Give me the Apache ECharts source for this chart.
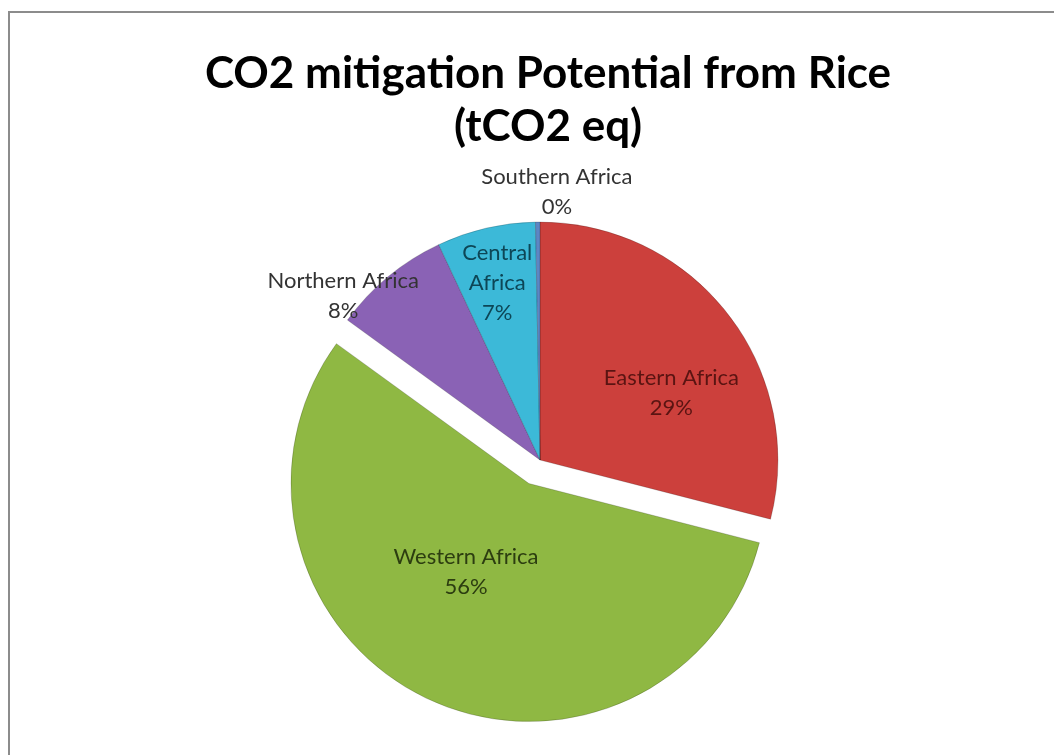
<!DOCTYPE html>
<html>
<head>
<meta charset="utf-8">
<script src="https://cdn.jsdelivr.net/npm/echarts@6/dist/echarts.min.js"></script>
<style>
  html, body { margin: 0; padding: 0; background: #ffffff; }
  #chart { width: 1054px; height: 755px; }
</style>
</head>
<body>
<div id="chart"></div>
<script>
// ---- data ----
const categories = ["Eastern Africa", "Western Africa", "Northern Africa", "Central Africa", "Southern Africa"];
const shares = [29, 56, 8, 6.7, 0.3];          // % of total mitigation potential
const sliceColors = ["#cc403c", "#8fb843", "#8a62b5", "#3cb9d8", "#5c86c4"];
const labelColors = ["#5a1412", "#2c3d10", "#333333", "#0d4656", "#333333"];
const explodedIndex = 1;
// label nudges (style) relative to ECharts inside-label anchor
const labelNudge = [[35, 8], [-11, -22], [-119, -70], [-15, -58], [18, -146]];

const chart = echarts.init(document.getElementById('chart'));
const fontFam = 'Lato, "Liberation Sans", "Noto Sans", sans-serif';

chart.setOption({
  backgroundColor: '#ffffff',
  animation: false,
  title: {
    text: 'CO2 mitigation Potential from Rice\n(tCO2 eq)',
    left: 543,
    top: 42,
    textAlign: 'center',
    textStyle: {
      fontFamily: fontFam,
      fontWeight: 'bold',
      fontSize: 44,
      lineHeight: 53,
      color: '#000000'
    }
  },
  graphic: [{
    type: 'rect',
    shape: { x: 9, y: 12, width: 1100, height: 800 },
    style: { fill: 'none', stroke: '#8c8c8c', lineWidth: 2 },
    silent: true
  }],
  series: [{
    type: 'pie',
    center: [540, 460],
    radius: 238,
    startAngle: 90,
    clockwise: true,
    selectedMode: 'single',
    selectedOffset: 26,
    avoidLabelOverlap: false,
    label: {
      show: true,
      position: 'inside',
      fontFamily: fontFam,
      fontSize: 22,
      lineHeight: 30,
      formatter: function (p) {
        const name = p.name === 'Central Africa' ? 'Central\nAfrica' : p.name;
        return name + '\n' + Math.round(p.percent) + '%';
      }
    },
    labelLine: { show: false },
    labelLayout: function (params) {
      const n = labelNudge[params.dataIndex];
      return { dx: n[0], dy: n[1] };
    },
    itemStyle: {
      borderColor: 'rgba(0,0,0,0.18)',
      borderWidth: 1
    },
    data: categories.map(function (c, i) {
      return {
        name: c,
        value: shares[i],
        selected: i === explodedIndex,
        itemStyle: { color: sliceColors[i] },
        label: { color: labelColors[i] }
      };
    })
  }]
});
</script>
</body>
</html>
